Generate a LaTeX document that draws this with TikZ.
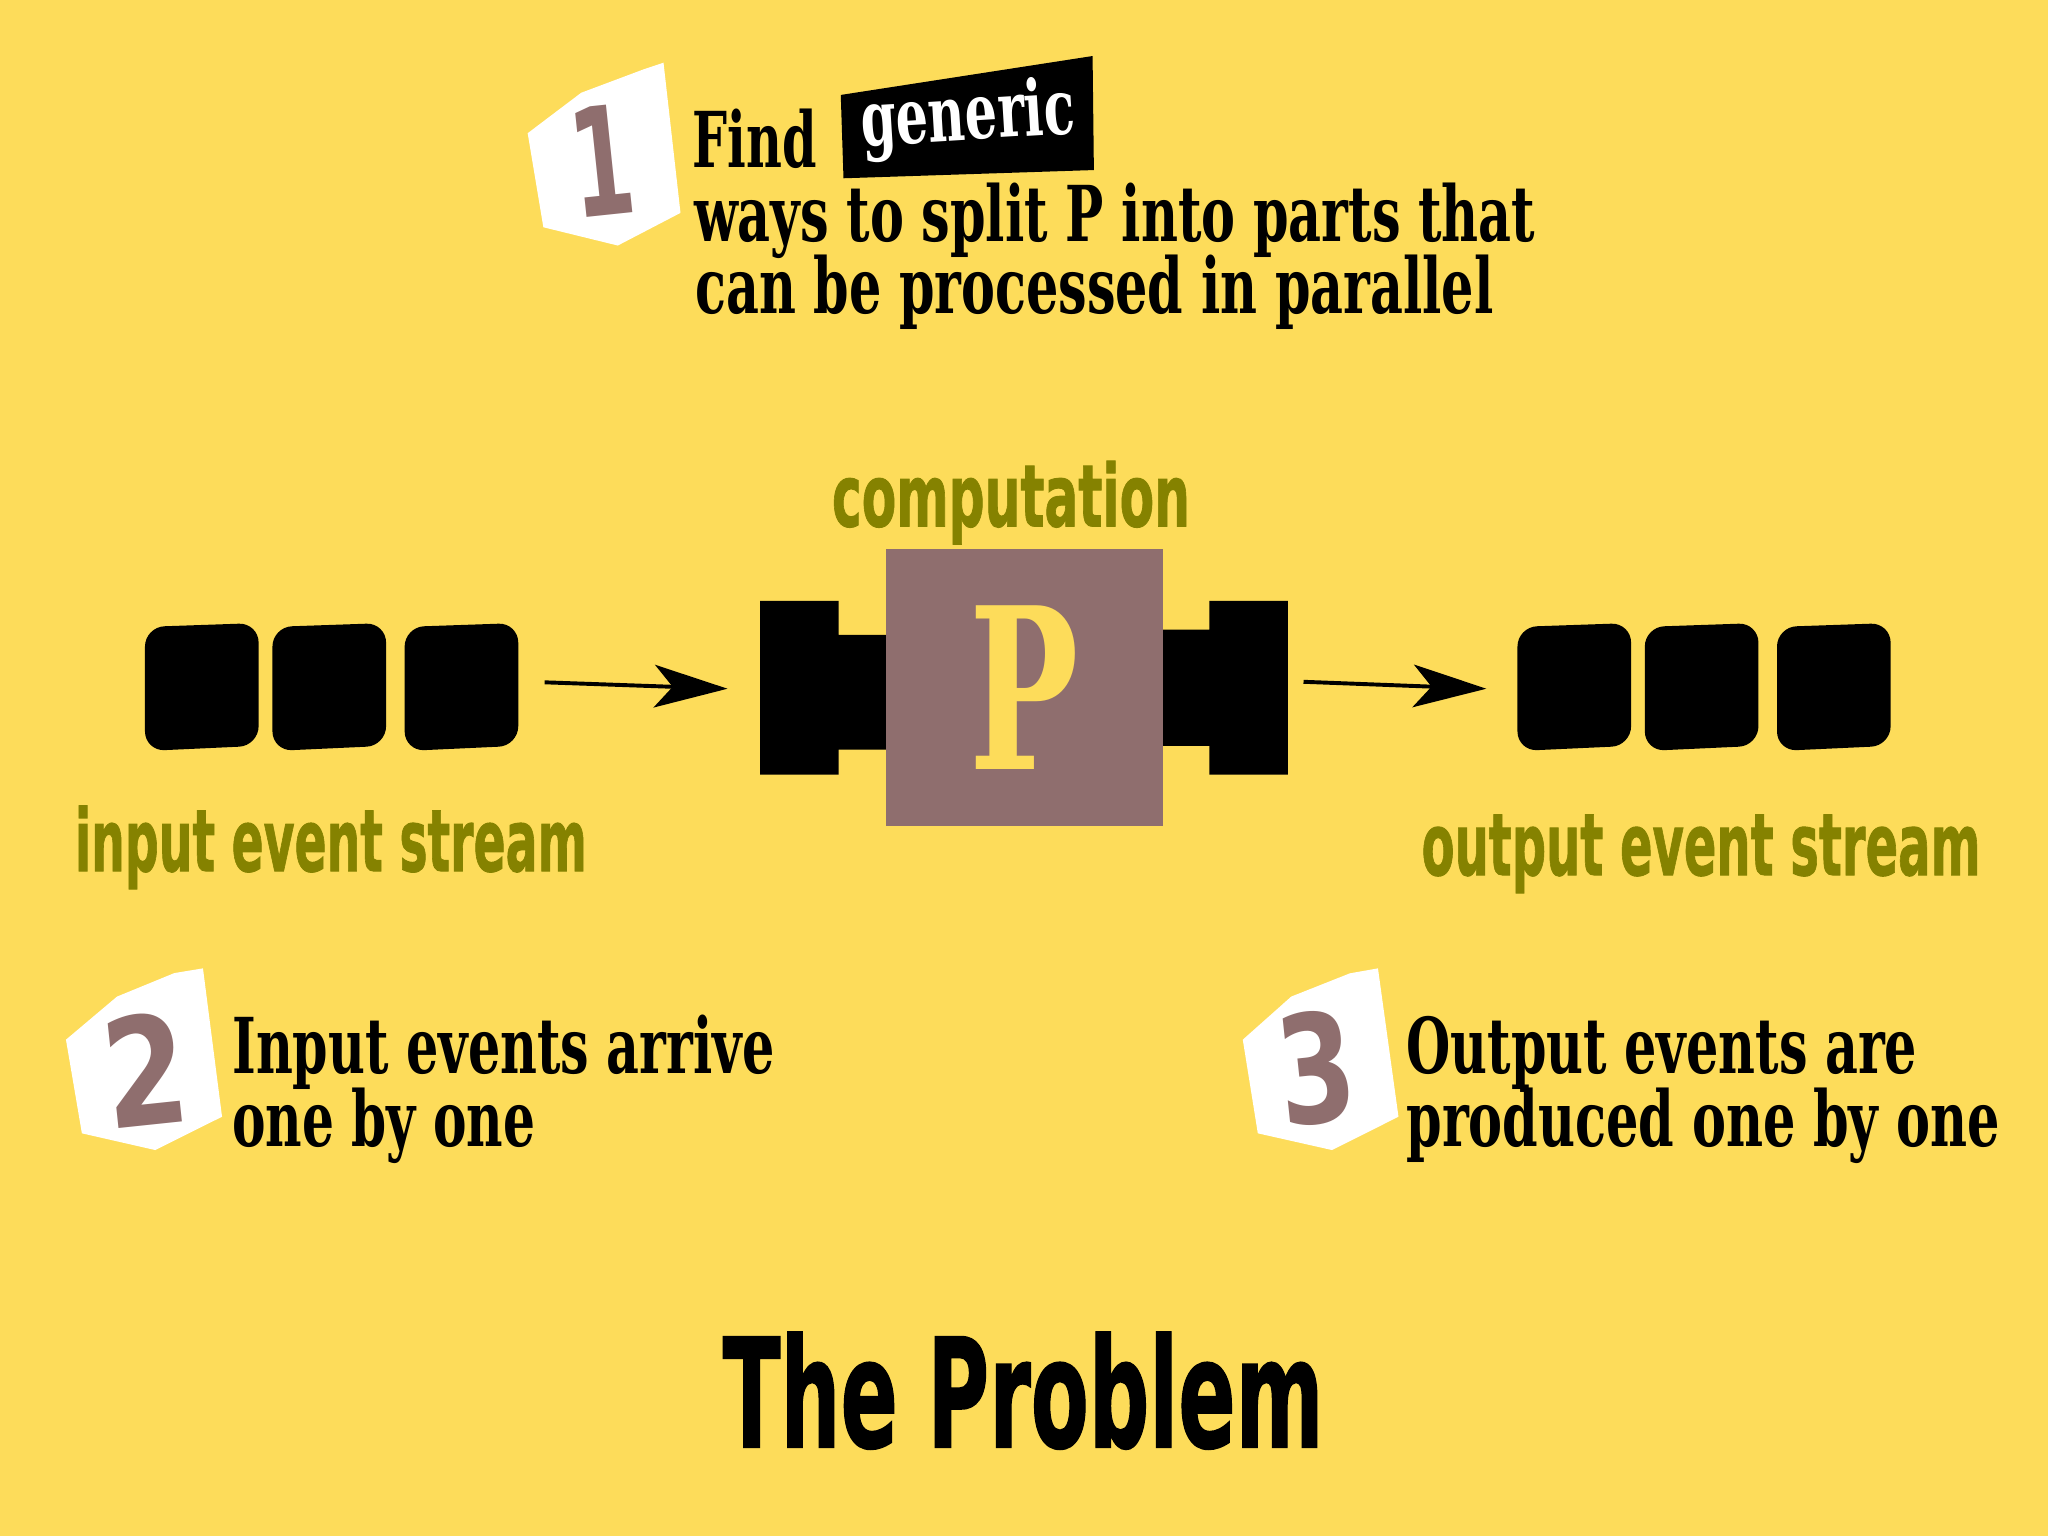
\documentclass[tikz,border=0pt]{standalone}
\usepackage{fontspec}
\usepackage{graphicx}
\usetikzlibrary{arrows.meta}
\setmainfont{DejaVu Serif}
\newfontfamily\slabfont{DejaVu Serif Condensed}
\newfontfamily\dispfont{DejaVu Sans}[BoldFeatures={FakeBold=1.2}]
\newfontfamily\digitfont{DejaVu Sans}
\definecolor{bgyellow}{HTML}{FDDC5A}
\definecolor{olivetxt}{HTML}{858200}
\definecolor{mauve}{HTML}{8F6E6E}
\newcommand\fitw[2]{\resizebox{#1}{\height}{#2}}
\tikzset{
  serifline/.style={anchor=base west, inner sep=0pt, text=black,
    font=\slabfont\bfseries\fontsize{29.5pt}{30pt}\selectfont},
  olivelbl/.style={inner sep=0pt, text=olivetxt,
    font=\dispfont\bfseries\fontsize{33pt}{33pt}\selectfont},
  titlelbl/.style={inner sep=0pt, text=black,
    font=\dispfont\bfseries\fontsize{58pt}{58pt}\selectfont},
  digitlbl/.style={inner sep=0pt, text=mauve, rotate=6,
    font=\digitfont\bfseries\fontsize{57.6pt}{58pt}\selectfont},
  badge/.style={fill=white},
  flow/.style={line width=1.5pt, -{Stealth[length=28pt,width=16.3pt,inset=7pt]}},
  pbox/.style={fill=mauve, minimum size=106pt, inner sep=0pt, text=bgyellow,
    font=\slabfont\bfseries\fontsize{86pt}{86pt}\selectfont},
  evsq/.pic={\fill[black, rounded corners=7.5pt] (0,3) -- (0,98) -- (87,94) -- (87,0) -- cycle;}
}
\begin{document}
\begin{tikzpicture}[x=0.5pt,y=-0.5pt]
\fill[bgyellow] (0,0) rectangle (1568,1176);
\useasboundingbox (0,0) rectangle (1568,1176);

% ---- step 1 ----
\fill[badge] (404,102) -- (445,71) -- (493,53) -- (508,48) -- (521,163) -- (473,188) -- (416,174) -- cycle;
\node[digitlbl] (n1) at (461,123) {\scalebox{0.6}[1]{1}};
\node[serifline] (find) at (530,128) {\fitw{47.5pt}{Find}};
\fill[black] (643.7,72.7) -- (836.5,42.9) -- (837.5,130.2) -- (645.8,136.5) -- cycle;
\node[serifline, anchor=base, text=white, rotate=3.5] (generic) at (742,107) {\fitw{82pt}{generic}};
\node[serifline] (ways) at (531,185) {\fitw{322pt}{ways to split P into parts that}};
\node[serifline] (can) at (532,240) {\fitw{305.5pt}{can be processed in parallel}};

% ---- input stream ----
\pic (in1) at (111,477) {evsq};
\pic (in2) at (208.6,477) {evsq};
\pic (in3) at (309.8,477) {evsq};
\node[olivelbl, anchor=base west] (inlbl) at (57,667) {\fitw{196pt}{input event stream}};

% ---- computation ----
\node[olivelbl, anchor=base] (complbl) at (774,403) {\fitw{137pt}{computation}};
\fill[black] (582,460) -- (642,460) -- (642,486) -- (679,486) -- (679,574) -- (642,574) -- (642,593) -- (582,593) -- cycle;
\fill[black] (890,482) -- (926,482) -- (926,460) -- (986,460) -- (986,593) -- (926,593) -- (926,571) -- (890,571) -- cycle;
\node[pbox] (P) at (784.5,526.5) {\scalebox{0.72}[1]{P}};

% ---- output stream ----
\pic (out1) at (1161.8,477) {evsq};
\pic (out2) at (1259.3,477) {evsq};
\pic (out3) at (1360.5,477) {evsq};
\node[olivelbl, anchor=base west] (outlbl) at (1088,670) {\fitw{214pt}{output event stream}};

% ---- arrows ----
\coordinate (inS) at (417,522.4);
\coordinate (inE) at (557,527.3);
\coordinate (outS) at (998,522);
\coordinate (outE) at (1138,527.3);
\draw[flow] (inS) -- (inE);
\draw[flow] (outS) -- (outE);

% ---- step 2 ----
\fill[badge] (50.5,796) -- (89.6,763) -- (133.5,745) -- (155.4,741.4) -- (170,855) -- (118.8,880.5) -- (62.7,867.7) -- cycle;
\node[digitlbl] (n2) at (111.5,818.6) {\scalebox{0.8}[1]{2}};
\node[serifline] (s2a) at (177.5,822) {\fitw{207.5pt}{Input events arrive}};
\node[serifline] (s2b) at (177.5,878) {\fitw{116pt}{one by one}};

% ---- step 3 ----
\fill[badge] (951.5,796) -- (988.6,763) -- (1033.5,745.2) -- (1055,741.4) -- (1070.7,855) -- (1019.8,880.5) -- (963,867.7) -- cycle;
\node[digitlbl] (n3) at (1008,818) {\scalebox{0.74}[1]{3}};
\node[serifline] (s3a) at (1076.5,822) {\fitw{195.5pt}{Output events are}};
\node[serifline] (s3b) at (1076.5,878) {\fitw{227pt}{produced one by one}};

% ---- title ----
\node[titlelbl, anchor=base west] (title) at (553,1108) {\fitw{230pt}{The Problem}};
\end{tikzpicture}
\end{document}
